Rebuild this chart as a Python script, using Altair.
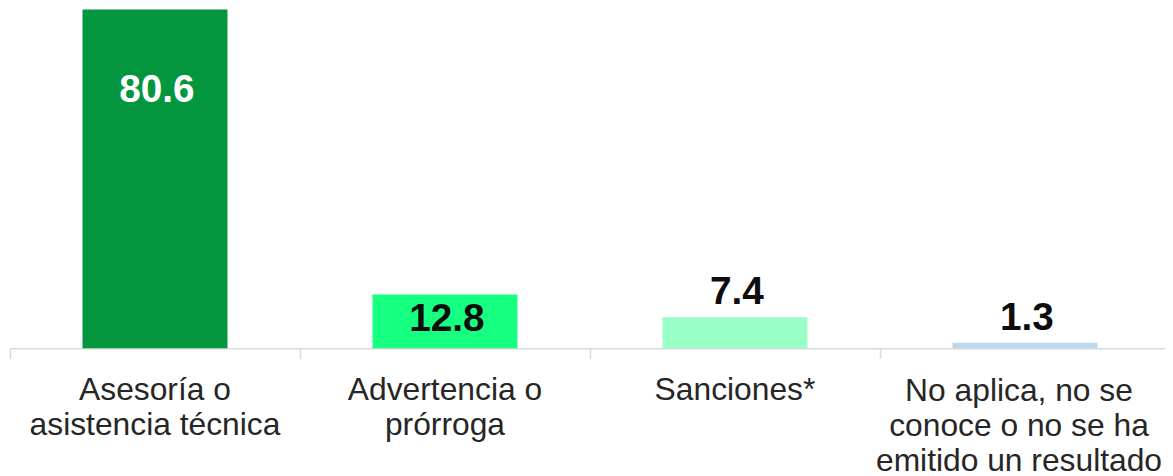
import altair as alt
import pandas as pd

categories = [
    "Asesoría o|asistencia técnica",
    "Advertencia o|prórroga",
    "Sanciones*",
    "No aplica, no se|conoce o no se ha|emitido un resultado",
]
values = [80.6, 12.8, 7.4, 1.3]
colors = ["#03963F", "#17FF80", "#99FFC7", "#BDD7EE"]
label_group = ["inside_white", "inside_black", "above", "above"]

df = pd.DataFrame({
    "cat": categories,
    "val": values,
    "color": colors,
    "grp": label_group,
    "txt": [f"{v:.1f}" for v in values],
})

FONT = "Liberation Sans"
last_test = f"datum.value == '{categories[3]}'"

x_enc = alt.X(
    "cat:N",
    sort=categories,
    title=None,
    scale=alt.Scale(paddingInner=0.5, paddingOuter=0.25, range=[0, 1168]),
    axis=alt.Axis(
        labelAngle=0,
        labelExpr="split(datum.label, '|')",
        labelFont=FONT,
        labelFontSize=32,
        labelLineHeight=35,
        labelColor="#262626",
        labelPadding={"condition": {"test": last_test, "value": 18}, "value": 17},
        labelOffset={"condition": {"test": last_test, "value": -6}, "value": 0},
        labelBaseline="top",
        domainColor="#D9D9D9",
        domainWidth=1.5,
        tickColor="#D9D9D9",
        tickWidth=1.5,
        tickSize=10,
        bandPosition=-0.5,
        labelLimit=400,
    ),
)
y_enc = alt.Y(
    "val:Q",
    scale=alt.Scale(domain=[0, 80.6], nice=False, zero=True),
    axis=None,
)

bars = alt.Chart(df).mark_bar().encode(
    x=x_enc,
    y=y_enc,
    color=alt.Color("color:N", scale=None, legend=None),
)

def text_layer(grp, dy, color):
    return alt.Chart(df).transform_filter(
        alt.datum.grp == grp
    ).mark_text(
        font=FONT, fontSize=39, fontWeight="bold", baseline="alphabetic",
        dy=dy, dx=2, color=color,
    ).encode(
        x=alt.X("cat:N", sort=categories),
        y=alt.Y("val:Q"),
        text="txt:N",
    )

t1 = text_layer("inside_white", 93, "#FFFFFF")
t2 = text_layer("inside_black", 37, "#0D0D0D")
t3 = text_layer("above", -13, "#0D0D0D")

chart = alt.layer(bars, t1, t2, t3).properties(
    width=1163,
    height=341,
    autosize=alt.AutoSizeParams(type="none"),
    padding={"left": 2, "top": 0, "right": 0, "bottom": 127},
).configure_view(stroke=None)

chart.save("out.html", embed_options={"renderer": "svg", "actions": False})
